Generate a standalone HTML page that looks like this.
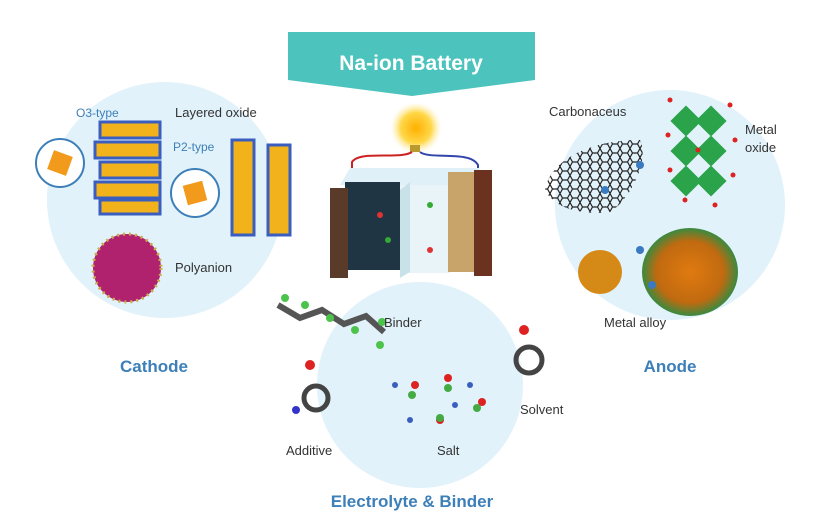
<!DOCTYPE html>
<html><head><meta charset="utf-8"><style>
html,body{margin:0;padding:0;background:#fff;}
svg{display:block;font-family:"Liberation Sans",sans-serif;}
</style></head><body>
<svg width="836" height="532" viewBox="0 0 836 532" xmlns="http://www.w3.org/2000/svg">
<defs>
<radialGradient id="sun"><stop offset="0" stop-color="#ffb000"/><stop offset="0.6" stop-color="#ffd84a"/><stop offset="1" stop-color="#fff3c0" stop-opacity="0"/></radialGradient>
<radialGradient id="blob"><stop offset="0" stop-color="#e07a10"/><stop offset="0.7" stop-color="#c06a10"/><stop offset="1" stop-color="#3a8a40"/></radialGradient>
<pattern id="hex" width="10" height="9" patternUnits="userSpaceOnUse"><path d="M0,4.5 L2.5,0 L7.5,0 L10,4.5 L7.5,9 L2.5,9 Z" fill="none" stroke="#222" stroke-width="1.2"/></pattern>
</defs>
<rect width="836" height="532" fill="#fff"/>
<circle cx="165" cy="200" r="118" fill="#e1f2fa"/>
<circle cx="670" cy="205" r="115" fill="#e1f2fa"/>
<circle cx="420" cy="385" r="103" fill="#e1f2fa"/>
<polygon points="288,32 535,32 535,80 412,96 288,80" fill="#4cc3bd"/>
<text x="411" y="70" text-anchor="middle" font-size="21" font-weight="bold" fill="#fff">Na-ion Battery</text>
<circle cx="416" cy="128" r="26" fill="url(#sun)"/>
<rect x="410" y="145" width="10" height="7" fill="#b89a30"/>
<path d="M412,152 C400,160 360,150 352,162 L352,170" stroke="#c22" stroke-width="2" fill="none"/>
<path d="M420,152 C430,160 470,150 478,165 L478,175" stroke="#34a" stroke-width="2" fill="none"/>
<polygon points="350,168 480,168 470,185 340,185" fill="#dff0f8"/>
<rect x="345" y="182" width="55" height="88" fill="#1f3544"/>
<rect x="330" y="188" width="18" height="90" fill="#5a3a28"/>
<rect x="400" y="185" width="50" height="88" fill="#e8f4f8"/>
<polygon points="400,190 410,182 410,272 400,278" fill="#c9e2ea"/>
<rect x="448" y="172" width="28" height="100" fill="#c8a46a"/>
<rect x="474" y="170" width="18" height="106" fill="#6b3220"/>
<circle cx="380" cy="215" r="3" fill="#d33"/><circle cx="430" cy="205" r="3" fill="#3a3"/><circle cx="430" cy="250" r="3" fill="#d33"/><circle cx="388" cy="240" r="3" fill="#3a3"/>
<text x="76" y="117" font-size="12" fill="#3d7fb8">O3-type</text>
<text x="175" y="117" font-size="13" fill="#333">Layered oxide</text>
<text x="173" y="151" font-size="12" fill="#3d7fb8">P2-type</text>
<g fill="#f2b21c" stroke="#3a5ec0" stroke-width="3">
<rect x="100" y="122" width="60" height="16"/><rect x="95" y="142" width="65" height="16"/><rect x="100" y="162" width="60" height="16"/><rect x="95" y="182" width="65" height="16"/><rect x="100" y="200" width="60" height="14"/>
<rect x="232" y="140" width="22" height="95"/><rect x="268" y="145" width="22" height="90"/>
</g>
<circle cx="60" cy="163" r="24" fill="#fff" stroke="#3d7fb8" stroke-width="2"/>
<rect x="50" y="153" width="20" height="20" fill="#f29a1c" transform="rotate(20 60 163)"/>
<circle cx="195" cy="193" r="24" fill="#fff" stroke="#3d7fb8" stroke-width="2"/>
<rect x="185" y="183" width="20" height="20" fill="#f29a1c" transform="rotate(-15 195 193)"/>
<circle cx="127" cy="268" r="34" fill="#b0226e"/>
<circle cx="127" cy="268" r="34" fill="none" stroke="#c9b04a" stroke-width="3" stroke-dasharray="2 4"/>
<text x="175" y="272" font-size="13" fill="#333">Polyanion</text>
<text x="154" y="372" text-anchor="middle" font-size="17" font-weight="bold" fill="#3d7fb8">Cathode</text>
<text x="549" y="116" font-size="13" fill="#333">Carbonaceus</text>
<path d="M545,190 C550,160 590,140 640,140 C650,160 630,200 610,212 C585,215 555,210 545,190 Z" fill="url(#hex)"/>
<circle cx="640" cy="165" r="4" fill="#3a7ac0"/><circle cx="605" cy="190" r="4" fill="#3a7ac0"/>
<g fill="#2aa34a"><rect x="675" y="110" width="22" height="22" transform="rotate(45 686 121)"/><rect x="700" y="110" width="22" height="22" transform="rotate(45 711 121)"/><rect x="675" y="140" width="22" height="22" transform="rotate(45 686 151)"/><rect x="700" y="140" width="22" height="22" transform="rotate(45 711 151)"/><rect x="675" y="170" width="22" height="22" transform="rotate(45 686 181)"/><rect x="700" y="170" width="22" height="22" transform="rotate(45 711 181)"/></g>
<g fill="#d22"><circle cx="670" cy="100" r="2.5"/><circle cx="730" cy="105" r="2.5"/><circle cx="668" cy="135" r="2.5"/><circle cx="735" cy="140" r="2.5"/><circle cx="670" cy="170" r="2.5"/><circle cx="733" cy="175" r="2.5"/><circle cx="685" cy="200" r="2.5"/><circle cx="715" cy="205" r="2.5"/><circle cx="698" cy="150" r="2.5"/></g>
<text x="745" y="134" font-size="13" fill="#333">Metal</text>
<text x="745" y="152" font-size="13" fill="#333">oxide</text>
<circle cx="600" cy="272" r="22" fill="#d58a18"/>
<ellipse cx="690" cy="272" rx="48" ry="44" fill="url(#blob)"/>
<circle cx="640" cy="250" r="4" fill="#3a7ac0"/><circle cx="652" cy="285" r="4" fill="#3a7ac0"/>
<text x="604" y="327" font-size="13" fill="#333">Metal alloy</text>
<text x="670" y="372" text-anchor="middle" font-size="17" font-weight="bold" fill="#3d7fb8">Anode</text>
<path d="M278,305 L300,318 L322,310 L344,324 L366,316 L384,332" stroke="#555" stroke-width="6" fill="none"/>
<g fill="#4cc44c"><circle cx="285" cy="298" r="4"/><circle cx="305" cy="305" r="4"/><circle cx="330" cy="318" r="4"/><circle cx="355" cy="330" r="4"/><circle cx="380" cy="345" r="4"/><circle cx="382" cy="322" r="4"/></g>
<text x="384" y="327" font-size="13" fill="#333">Binder</text>
<circle cx="316" cy="398" r="12" fill="none" stroke="#444" stroke-width="5"/><circle cx="310" cy="365" r="5" fill="#d22"/><circle cx="296" cy="410" r="4" fill="#33c"/>
<text x="286" y="455" font-size="13" fill="#333">Additive</text>
<g fill="#d22"><circle cx="415" cy="385" r="4"/><circle cx="448" cy="378" r="4"/><circle cx="440" cy="420" r="4"/><circle cx="482" cy="402" r="4"/></g>
<g fill="#4a4"><circle cx="412" cy="395" r="4"/><circle cx="448" cy="388" r="4"/><circle cx="440" cy="418" r="4"/><circle cx="477" cy="408" r="4"/></g>
<g fill="#3a5ec0"><circle cx="395" cy="385" r="3"/><circle cx="470" cy="385" r="3"/><circle cx="455" cy="405" r="3"/><circle cx="410" cy="420" r="3"/></g>
<text x="437" y="455" font-size="13" fill="#333">Salt</text>
<circle cx="529" cy="360" r="13" fill="none" stroke="#444" stroke-width="5"/><circle cx="524" cy="330" r="5" fill="#d22"/>
<text x="520" y="414" font-size="13" fill="#333">Solvent</text>
<text x="412" y="507" text-anchor="middle" font-size="17" font-weight="bold" fill="#3d7fb8">Electrolyte &amp; Binder</text>
</svg>
</body></html>
